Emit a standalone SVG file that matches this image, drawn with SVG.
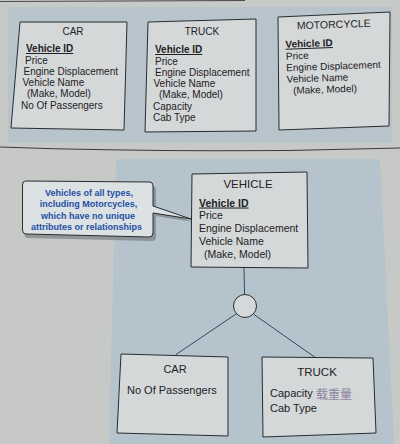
<svg xmlns="http://www.w3.org/2000/svg" width="400" height="444" viewBox="0 0 400 444">
<defs>
<style>
.t{font-family:"Liberation Sans",Arial,sans-serif;fill:#1f2123}
.s10{font-size:10px}
.s105{font-size:10.5px}
.s11{font-size:11px}
.s115{font-size:11.5px}
.key{font-weight:bold;text-decoration:underline}
.box{fill:#d4d8d9;stroke:#2a2c2e;stroke-width:1}
.conn{fill:none;stroke:#2e4b5e;stroke-width:1}
.call{font-family:"Liberation Sans",Arial,sans-serif;font-size:9px;font-weight:bold;fill:#1f4fa3;text-anchor:middle}
.mid{text-anchor:middle}
</style>
</defs>
<rect x="0" y="0" width="400" height="444" fill="#c6c9c6"/>
<path d="M0,1.5 L245,0.5" stroke="#4a4a4a" stroke-width="1" fill="none"/>
<rect x="8" y="7" width="384" height="136" fill="#b7c4cc"/>
<path d="M0,147 Q200,154 400,148" stroke="#3a3b3c" stroke-width="1.2" fill="none"/>
<polygon points="116,159 380,159 394,444 109,444" fill="#b5c3cc"/>

<g id="top-car">
<polygon class="box" points="20,22 127,22 124,130 11,128"/>
<text class="t s10 mid" x="73" y="35">CAR</text>
<text class="t s10 key" x="26" y="52">Vehicle ID</text>
<text class="t s10" x="25" y="63.5">Price</text>
<text class="t s10" x="23.5" y="75">Engine Displacement</text>
<text class="t s10" x="22.5" y="86">Vehicle Name</text>
<text class="t s10" x="27" y="97">(Make, Model)</text>
<text class="t s10" x="21" y="108.5">No Of Passengers</text>
</g>

<g id="top-truck">
<polygon class="box" points="148,22 256,19 256,131 145,132"/>
<text class="t s10 mid" x="202" y="35">TRUCK</text>
<text class="t s10 key" x="155" y="53">Vehicle ID</text>
<text class="t s10" x="155" y="64.5">Price</text>
<text class="t s10" x="155" y="75.5">Engine Displacement</text>
<text class="t s10" x="153.5" y="87">Vehicle Name</text>
<text class="t s10" x="159" y="98">(Make, Model)</text>
<text class="t s10" x="153" y="109.5">Capacity</text>
<text class="t s10" x="153" y="121">Cab Type</text>
</g>

<g id="top-motorcycle">
<polygon class="box" points="278,17 390,12 389,126 279,130"/>
<g transform="rotate(-2 335 60)">
<text class="t s105 mid" x="335" y="28">MOTORCYCLE</text>
<text class="t s10 key" x="286" y="46">Vehicle ID</text>
<text class="t s10" x="286" y="58">Price</text>
<text class="t s10" x="286" y="69.5">Engine Displacement</text>
<text class="t s10" x="286" y="81">Vehicle Name</text>
<text class="t s10" x="292" y="92.5">(Make, Model)</text>
</g>
</g>

<g id="callout">
<path d="M25.5,183 L150,184 Q154,184 154,188 L154,206 L191,220 L154,214 L154,235 Q154,239 150,239 L26,236 Q22.5,236 22.5,232 L22.5,187 Q22.5,183 25.5,183 Z" fill="#6e7478" transform="translate(2,2)" opacity="0.6"/>
<path d="M25.5,181 L150,182 Q153,182 153,186 L153,206 L191,219 L153,213 L153,233 Q153,237 149,237 L26,234 Q22.5,234 22.5,230 L22.5,185 Q22.5,181 25.5,181 Z" fill="#dce1e3" stroke="#2a2c2e" stroke-width="1"/>
<text class="call" x="89" y="196">Vehicles of all types,</text>
<text class="call" x="88.5" y="207">including Motorcycles,</text>
<text class="call" x="88" y="218.5">which have no unique</text>
<text class="call" x="86.5" y="230">attributes or relationships</text>
</g>

<g id="connectors">
<line class="conn" x1="244" y1="268" x2="244.5" y2="294.5"/>
<line class="conn" x1="236" y1="314" x2="176" y2="354.5"/>
<line class="conn" x1="254" y1="314.5" x2="316" y2="358"/>
</g>

<g id="vehicle">
<polygon class="box" points="192,174 307,172 308,268 191,267"/>
<text class="t s115 mid" x="248" y="188">VEHICLE</text>
<text class="t s105 key" x="199" y="206.5">Vehicle ID</text>
<text class="t s105" x="199" y="219">Price</text>
<text class="t s105" x="199" y="232">Engine Displacement</text>
<text class="t s105" x="199" y="245">Vehicle Name</text>
<text class="t s105" x="204" y="257.5">(Make, Model)</text>
</g>

<g id="subtype-circle">
<circle cx="245" cy="306" r="11.5" fill="#d4d8d9" stroke="#2a2c2e" stroke-width="1"/>
</g>

<g id="car">
<polygon class="box" points="121,354 228,357 228,436 117,433"/>
<text class="t s11 mid" x="175" y="373">CAR</text>
<text class="t s11" x="127" y="394">No Of Passengers</text>
</g>

<g id="truck">
<polygon class="box" points="262,357 373,358 376,433 263,437"/>
<text class="t s115 mid" x="317" y="376">TRUCK</text>
<text class="t s11" x="270" y="396.5">Capacity</text>
<text class="t s11" x="270" y="412">Cab Type</text>
<text x="316" y="399" font-family="'Noto Sans CJK SC',sans-serif" font-size="12" fill="#7e7592" opacity="0.85">载重量</text>
</g>
</svg>
